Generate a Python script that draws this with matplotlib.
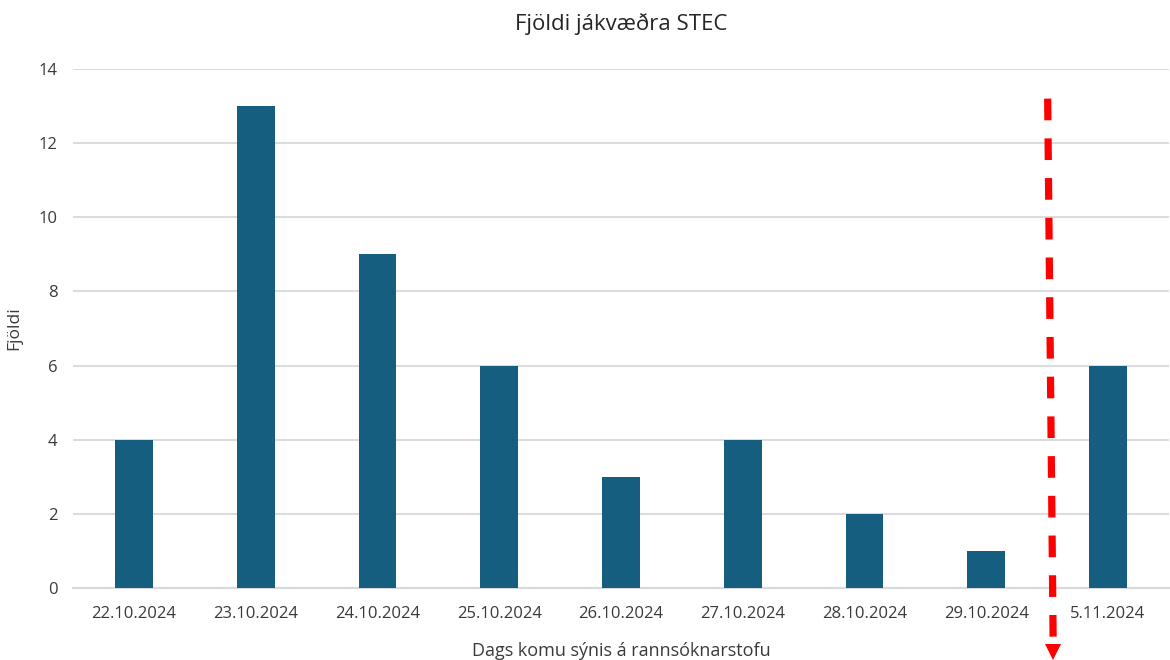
import matplotlib
matplotlib.use("Agg")
import matplotlib.pyplot as plt

categories = ["22.10.2024", "23.10.2024", "24.10.2024", "25.10.2024", "26.10.2024",
              "27.10.2024", "28.10.2024", "29.10.2024", "5.11.2024"]
values = [4, 13, 9, 6, 3, 4, 2, 1, 6]
yticks = [0, 2, 4, 6, 8, 10, 12, 14]

plt.rcParams['font.family'] = ['Open Sans', 'DejaVu Sans']

fig = plt.figure(figsize=(11.7, 6.6), dpi=100)
ax = fig.add_axes([0.0624, 0.109, 0.9366, 0.7865])

x = list(range(len(categories)))
ax.bar(x, values, width=0.31, color="#165E80", zorder=3)

ax.set_xlim(-0.5, len(categories) - 0.5)
ax.set_ylim(0, 14)
ax.set_yticks(yticks)
ax.set_xticks(x)
ax.set_xticklabels(categories)
ax.yaxis.grid(True, color="#DCDCDC", linewidth=1.5, zorder=0)
ax.set_axisbelow(True)
for s in ["top", "right", "left"]:
    ax.spines[s].set_visible(False)
ax.spines["bottom"].set_color("#D9D9D9")
ax.spines["bottom"].set_linewidth(1.5)
ax.tick_params(axis="both", length=0, labelsize=12, colors="#3A3A3A")
ax.tick_params(axis="y", pad=11)
ax.tick_params(axis="x", pad=13)

ax.set_title("Fjöldi jákvæðra STEC", fontsize=16, color="#262626", pad=28)
ax.set_xlabel("Dags komu sýnis á rannsóknarstofu", fontsize=13, color="#3A3A3A", labelpad=14)
ax.set_ylabel("Fjöldi", fontsize=12.5, color="#3A3A3A", labelpad=12)

# red dashed arrow separating periods
arrow_x0, arrow_y0 = 7.505, 13.2
arrow_x1, arrow_y1 = 7.55, -1.45
head_y = -1.72
ax.plot([arrow_x0, arrow_x1], [arrow_y0, arrow_y1], color="#FF0000", linewidth=5.2,
        dashes=(3.0, 2.5), clip_on=False, zorder=5, solid_capstyle="butt",
        dash_capstyle="butt")
ax.plot([arrow_x1], [head_y], marker="v", markersize=11, color="#FF0000",
        markeredgewidth=0, clip_on=False, zorder=5)

fig.savefig("out.png", dpi=100)
